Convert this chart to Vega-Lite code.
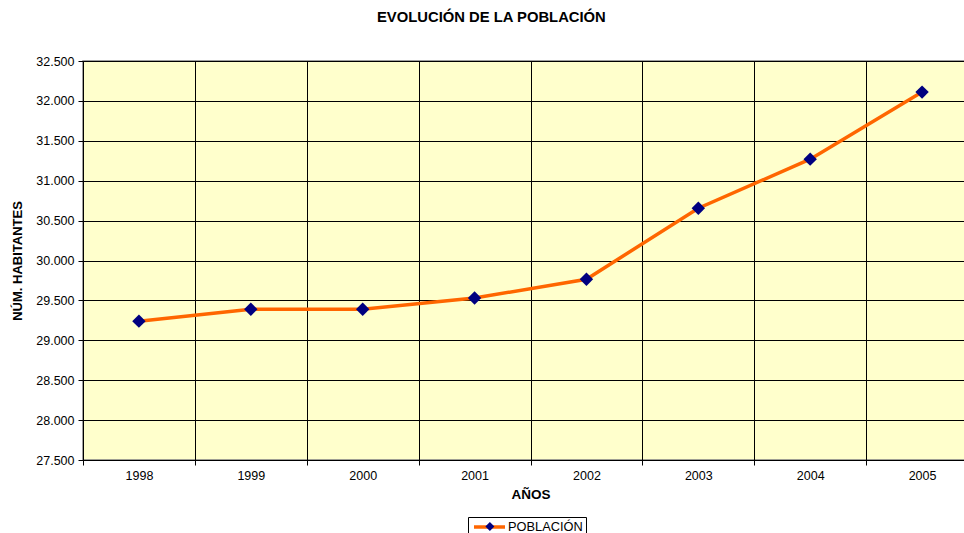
{
  "$schema": "https://vega.github.io/schema/vega-lite/v6.json",
  "autosize": "none",
  "width": 895,
  "height": 399,
  "padding": {"left": 83, "top": 61, "right": 0, "bottom": 73},
  "background": "white",
  "title": {
    "text": "EVOLUCIÓN DE LA POBLACIÓN",
    "font": "Liberation Sans",
    "fontSize": 14.8,
    "fontWeight": "bold",
    "color": "black",
    "anchor": "start",
    "frame": "group",
    "dx": 294,
    "offset": 30
  },
  "data": {
    "values": [
      {"year": "1998", "pop": 29240, "serie": "POBLACIÓN"},
      {"year": "1999", "pop": 29390, "serie": "POBLACIÓN"},
      {"year": "2000", "pop": 29390, "serie": "POBLACIÓN"},
      {"year": "2001", "pop": 29530, "serie": "POBLACIÓN"},
      {"year": "2002", "pop": 29765, "serie": "POBLACIÓN"},
      {"year": "2003", "pop": 30655, "serie": "POBLACIÓN"},
      {"year": "2004", "pop": 31270, "serie": "POBLACIÓN"},
      {"year": "2005", "pop": 32110, "serie": "POBLACIÓN"}
    ]
  },
  "encoding": {
    "x": {
      "field": "year",
      "type": "ordinal",
      "scale": {"type": "band", "paddingInner": 0, "paddingOuter": 0},
      "axis": {
        "title": "AÑOS",
        "labelAngle": 0,
        "tickBand": "extent",
        "grid": true,
        "gridColor": "#000000",
        "gridOpacity": 1,
        "domainColor": "#000000",
        "tickColor": "#000000",
        "tickSize": 5,
        "labelPadding": 4,
        "titlePadding": 6,
        "labelFont": "Liberation Sans",
        "labelFontSize": 12.5,
        "labelColor": "black",
        "titleFont": "Liberation Sans",
        "titleFontSize": 13.5,
        "titleFontWeight": "bold",
        "titleColor": "black"
      }
    },
    "y": {
      "field": "pop",
      "type": "quantitative",
      "scale": {"domain": [27500, 32500], "nice": false, "zero": false},
      "axis": {
        "title": "NÚM. HABITANTES",
        "values": [27500, 28000, 28500, 29000, 29500, 30000, 30500, 31000, 31500, 32000, 32500],
        "labelExpr": "replace(format(datum.value, ',.0f'), ',', '.')",
        "grid": true,
        "gridColor": "#000000",
        "gridOpacity": 1,
        "domainColor": "#000000",
        "tickColor": "#000000",
        "tickSize": 5,
        "labelPadding": 4,
        "titlePadding": 11,
        "labelFont": "Liberation Sans",
        "labelFontSize": 12.5,
        "labelColor": "black",
        "titleFont": "Liberation Sans",
        "titleFontSize": 13,
        "titleFontWeight": "bold",
        "titleColor": "black"
      }
    }
  },
  "layer": [
    {
      "mark": {"type": "line", "strokeWidth": 3.5},
      "encoding": {
        "stroke": {
          "field": "serie",
          "type": "nominal",
          "scale": {"range": ["#FF6600"]},
          "legend": {
            "title": null,
            "orient": "none",
            "legendX": 385,
            "legendY": 456,
            "symbolType": "M-0.8,0H5.4",
            "symbolSize": 100,
            "symbolStrokeWidth": 3.5,
            "symbolOpacity": 1,
            "labelFont": "Liberation Sans",
            "labelFontSize": 12.8,
            "labelColor": "black",
            "labelOffset": 23,
            "strokeColor": "black",
            "padding": 3
          }
        }
      }
    },
    {
      "mark": {"type": "point", "shape": "diamond", "filled": true, "size": 180, "opacity": 1},
      "encoding": {
        "fill": {
          "field": "serie",
          "type": "nominal",
          "scale": {"domain": ["POBLACIÓN"], "range": ["#000080"]},
          "legend": {
            "title": null,
            "orient": "none",
            "legendX": 397.5,
            "legendY": 456,
            "symbolType": "diamond",
            "symbolSize": 81,
            "symbolOpacity": 1,
            "symbolStrokeWidth": 0,
            "labelFont": "Liberation Sans",
            "labelFontSize": 12.8,
            "labelExpr": "''",
            "padding": 3
          }
        }
      }
    }
  ],
  "config": {
    "view": {"fill": "#FFFFCC", "stroke": "#808080", "strokeWidth": 1.5}
  }
}
